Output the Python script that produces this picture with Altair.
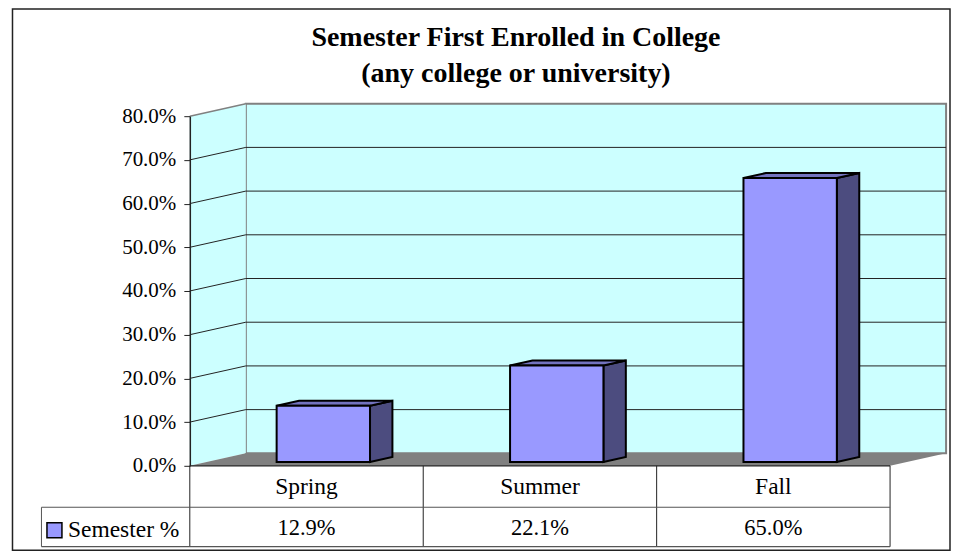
import altair as alt
import pandas as pd

# ---- chart values ----
categories = ["Spring", "Summer", "Fall"]
values = [12.9, 22.1, 65.0]
series_name = "Semester %"
grid_ticks = [10, 20, 30, 40, 50, 60, 70]
axis_ticks = [0, 10, 20, 30, 40, 50, 60, 70, 80]
title_lines = ["Semester First Enrolled in College", "(any college or university)"]

# ---- projection of the pseudo-3D box, in data units ----
DEPTH_X = 0.24      # category units
DEPTH_Y = 2.857     # percent units
BAR_W = 0.4
BAR_FRONT, BAR_BACK = 0.3, 0.7
Y_MAX = 80

FONT = "Liberation Serif"
WALL, FLOOR = "#CCFFFF", "#808080"
BAR, BAR_TOP, BAR_SIDE = "#9999FF", "#7373BF", "#4C4C7F"
DARK = "#222222"
TXT_CAT = 23.5
TXT_VAL = 22.5

xs = alt.Scale(domain=[0, 3], nice=False, zero=False)
ys = alt.Scale(domain=[0, Y_MAX], nice=False, zero=False)
y_axis = alt.Axis(
    values=axis_ticks, labelExpr="format(datum.value / 100, '.1%')",
    labelFont=FONT, labelFontSize=21, labelColor="black", labelPadding=8,
    tickColor=DARK, tickSize=6, tickWidth=1,
    domainColor=DARK, domainWidth=1.5, grid=False, zindex=1, title=None,
)
X = alt.X("x:Q", scale=xs, axis=None)
Y = alt.Y("y:Q", scale=ys, axis=y_axis)


def rows(*pts):
    return pd.DataFrame(pts)


def area(df, **mk):
    return alt.Chart(df).mark_area(**mk).encode(x=X, y=Y, y2="y2:Q")


# back wall
wall = alt.Chart(rows({"x": DEPTH_X, "x2": 3 + DEPTH_X, "y": DEPTH_Y, "y2": Y_MAX + DEPTH_Y})).mark_rect(
    fill=WALL, stroke=FLOOR, strokeWidth=2
).encode(x=X, x2="x2:Q", y=Y, y2="y2:Q")

# side wall
side = area(rows({"x": 0, "y": Y_MAX, "y2": 0}, {"x": DEPTH_X, "y": Y_MAX + DEPTH_Y, "y2": DEPTH_Y}), fill=WALL)

top_edge = alt.Chart(rows({"x": 0, "y": Y_MAX}, {"x": DEPTH_X, "y": Y_MAX + DEPTH_Y})).mark_line(
    color=FLOOR, strokeWidth=1.5
).encode(x=X, y=Y)

# grid lines on back wall and side wall
grid_back = alt.Chart(pd.DataFrame(
    [{"x": DEPTH_X, "x2": 3 + DEPTH_X, "y": t + DEPTH_Y} for t in grid_ticks]
)).mark_rule(color=DARK, strokeWidth=1).encode(x=X, x2="x2:Q", y=Y)

grid_side = alt.Chart(pd.DataFrame(
    [{"x": 0, "y": t, "t": t} for t in grid_ticks]
    + [{"x": DEPTH_X, "y": t + DEPTH_Y, "t": t} for t in grid_ticks]
)).mark_line(color=DARK, strokeWidth=1).encode(x=X, y=Y, detail="t:N")

# floor
floor = area(rows(
    {"x": 0, "y": 0, "y2": 0},
    {"x": DEPTH_X, "y": DEPTH_Y, "y2": 0},
    {"x": 3, "y": DEPTH_Y, "y2": 0},
    {"x": 3 + DEPTH_X, "y": DEPTH_Y, "y2": DEPTH_Y},
), fill=FLOOR)

# bars
layers_bar = []
f_dx, b_dx = BAR_FRONT * DEPTH_X, BAR_BACK * DEPTH_X
f_dy, b_dy = BAR_FRONT * DEPTH_Y, BAR_BACK * DEPTH_Y
for i, v in enumerate(values):
    l = i + 0.5 - BAR_W / 2
    r = i + 0.5 + BAR_W / 2
    layers_bar.append(area(rows(
        {"x": r + f_dx, "y": v + f_dy, "y2": f_dy},
        {"x": r + b_dx, "y": v + b_dy, "y2": b_dy},
    ), fill=BAR_SIDE, stroke="black", strokeWidth=2, strokeJoin="miter"))
    layers_bar.append(area(rows(
        {"x": l + f_dx, "y": v + f_dy, "y2": v + f_dy},
        {"x": l + b_dx, "y": v + b_dy, "y2": v + f_dy},
        {"x": r + f_dx, "y": v + b_dy, "y2": v + f_dy},
        {"x": r + b_dx, "y": v + b_dy, "y2": v + b_dy},
    ), fill=BAR_TOP, stroke="black", strokeWidth=2, strokeJoin="miter"))
    layers_bar.append(alt.Chart(rows({"x": l + f_dx, "x2": r + f_dx, "y": v + f_dy, "y2": f_dy})).mark_rect(
        fill=BAR, stroke="black", strokeWidth=2
    ).encode(x=X, x2="x2:Q", y=Y, y2="y2:Q"))

# data table under the plot
TAB_TOP, TAB_MID, TAB_BOT = 350, 391.5, 431
LEFT_X = -148.5
vlines = alt.Chart(pd.DataFrame({"x": [0, 1, 2, 3]})).mark_rule(color=DARK, strokeWidth=1).encode(
    x=X, y=alt.value(TAB_TOP), y2=alt.value(TAB_BOT)
)
hline_top = alt.Chart(rows({"x": 0, "x2": 3})).mark_rule(color=DARK, strokeWidth=1.2).encode(
    x=X, x2="x2:Q", y=alt.value(TAB_TOP)
)
hlines = alt.Chart(pd.DataFrame({"yy": [TAB_MID, TAB_BOT]})).mark_rule(color="#555555", strokeWidth=1.2).encode(
    x=alt.value(LEFT_X), x2=alt.value(701), y=alt.Y("yy:Q", scale=None)
)
vleft = alt.Chart(rows({"a": 1})).mark_rule(color="#555555", strokeWidth=1).encode(
    x=alt.value(LEFT_X), y=alt.value(TAB_MID), y2=alt.value(TAB_BOT)
)
table_df = pd.DataFrame({
    "x": [i + 0.5 for i in range(len(categories))],
    "cat": categories,
    "val": [f"{v:.1f}%" for v in values],
})
cat_text = alt.Chart(table_df).mark_text(font=FONT, fontSize=TXT_CAT, color="black", baseline="middle").encode(
    x=X, y=alt.value(371), text="cat:N"
)
val_text = alt.Chart(table_df).mark_text(font=FONT, fontSize=TXT_VAL, color="black", baseline="middle").encode(
    x=X, y=alt.value(412), text="val:N"
)
swatch = alt.Chart(rows({"a": 1})).mark_rect(fill=BAR, stroke="black", strokeWidth=1.5).encode(
    x=alt.value(-143), x2=alt.value(-128), y=alt.value(407), y2=alt.value(422)
)
legend_text = alt.Chart(pd.DataFrame({"s": [series_name]})).mark_text(
    font=FONT, fontSize=TXT_CAT, color="black", align="left", baseline="middle"
).encode(x=alt.value(-122), y=alt.value(414), text="s:N")

# outer frame
frame = alt.Chart(rows({"a": 1})).mark_rect(fill=None, stroke=DARK, strokeWidth=1.5).encode(
    x=alt.value(-177.5), x2=alt.value(761), y=alt.value(-107.2), y2=alt.value(434.5)
)

chart = alt.layer(
    frame, wall, side, top_edge, grid_back, grid_side, floor, *layers_bar,
    vlines, hline_top, hlines, vleft, cat_text, val_text, swatch, legend_text,
).properties(
    width=701,
    height=350,
    title=alt.Title(
        text=title_lines, font=FONT, fontSize=28, fontWeight="bold", color="black",
        anchor="middle", dx=-24, offset=-80, lineHeight=36,
    ),
    padding={"left": 182, "top": 108, "right": 62, "bottom": 87},
    autosize=alt.AutoSizeParams(type="none"),
    background="white",
).configure_view(stroke=None)

chart.save("out.html", embed_options={"renderer": "svg", "actions": False})
